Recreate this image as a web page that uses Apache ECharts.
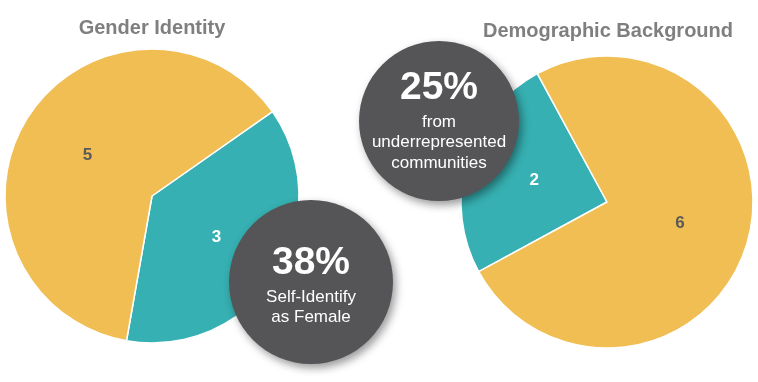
<!DOCTYPE html>
<html>
<head>
<meta charset="utf-8">
<script src="https://cdn.jsdelivr.net/npm/echarts@6/dist/echarts.min.js"></script>
<style>
html,body{margin:0;padding:0;background:#fff;}
#chart{width:758px;height:382px;}
</style>
</head>
<body>
<div id="chart"></div>
<script>
// ---- data ----
const titles = ['Gender Identity', 'Demographic Background'];
const genderCategories = ['Female', 'Male'];
const genderValues = [3, 5];
const backgroundCategories = ['Underrepresented', 'Other'];
const backgroundValues = [2, 6];
const genderNote = ['Self-Identify', 'as Female'];
const backgroundNote = ['from', 'underrepresented', 'communities'];

const TEAL = '#36B0B2';
const YELLOW = '#F0BE52';
const FONT = '"Liberation Sans", Arial, Helvetica, sans-serif';

function pct(vals, i) {
  const s = vals.reduce((a, b) => a + b, 0);
  return Math.round(vals[i] / s * 100) + '%';
}

function pieData(cats, vals) {
  return cats.map((c, i) => ({
    name: c,
    value: vals[i],
    itemStyle: { color: i === 0 ? TEAL : YELLOW },
    label: { color: i === 0 ? '#ffffff' : '#5a5a5a' }
  }));
}

function bubble(cx, cy, r, big, lines, bigY, lineY0) {
  const els = [{
    type: 'circle',
    shape: { cx: cx, cy: cy, r: r },
    style: { fill: '#555557', shadowBlur: 9, shadowOffsetX: 3, shadowOffsetY: 4, shadowColor: 'rgba(0,0,0,0.4)' },
    z: 100
  }, {
    type: 'text',
    x: cx, y: bigY,
    style: { text: big, fill: '#fff', font: 'bold 39px ' + FONT, textAlign: 'center', textVerticalAlign: 'middle' },
    z: 101
  }];
  lines.forEach((t, i) => {
    els.push({
      type: 'text',
      x: cx, y: lineY0 + i * 20.5,
      style: { text: t, fill: '#fff', font: '17px ' + FONT, textAlign: 'center', textVerticalAlign: 'middle' },
      z: 101
    });
  });
  return els;
}

const chart = echarts.init(document.getElementById('chart'));
chart.setOption({
  animation: false,
  backgroundColor: '#ffffff',
  title: [{
    text: titles[0], left: 147, top: 13, textAlign: 'center',
    textStyle: { fontFamily: FONT, fontWeight: 'bold', fontSize: 20, color: '#7f7f7f' }
  }, {
    text: titles[1], left: 603, top: 16, textAlign: 'center',
    textStyle: { fontFamily: FONT, fontWeight: 'bold', fontSize: 20, color: '#7f7f7f' }
  }],
  series: [{
    type: 'pie',
    center: [152, 196],
    radius: 147,
    startAngle: 35,
    clockwise: true,
    silent: true,
    itemStyle: { borderColor: '#fff', borderWidth: 1.5 },
    label: { position: 'inside', formatter: '{c}', fontFamily: FONT, fontWeight: 'bold', fontSize: 17 },
    labelLine: { show: false },
    data: pieData(genderCategories, genderValues)
  }, {
    type: 'pie',
    center: [607, 202],
    radius: 146,
    startAngle: 208.5,
    clockwise: true,
    silent: true,
    itemStyle: { borderColor: '#fff', borderWidth: 1.5 },
    label: { position: 'inside', formatter: '{c}', fontFamily: FONT, fontWeight: 'bold', fontSize: 17 },
    labelLine: { show: false },
    data: pieData(backgroundCategories, backgroundValues)
  }],
  graphic: [].concat(
    bubble(311, 282, 82, pct(genderValues, 0), genderNote, 263, 297),
    bubble(439, 121, 80, pct(backgroundValues, 0), backgroundNote, 88, 122)
  )
});
</script>
</body>
</html>
